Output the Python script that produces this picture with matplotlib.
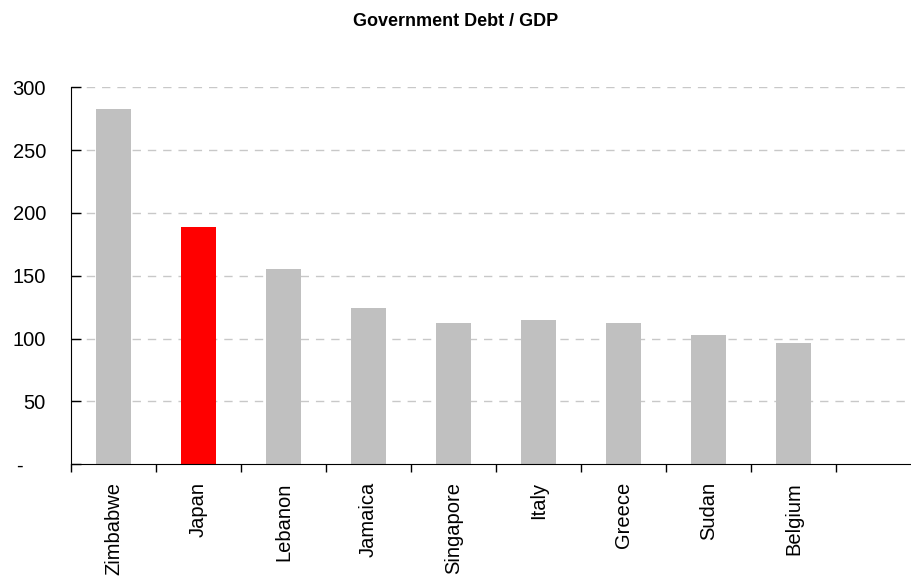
import matplotlib.pyplot as plt
from matplotlib.transforms import ScaledTranslation

plt.rcParams['font.family'] = ['Liberation Sans', 'DejaVu Sans']

# Data
countries = ['Zimbabwe', 'Japan', 'Lebanon', 'Jamaica', 'Singapore',
             'Italy', 'Greece', 'Sudan', 'Belgium', '']
debt = [282.5, 188.6, 155.2, 124.1, 112.2, 114.6, 112.2, 102.6, 96.3]
highlight = 'Japan'
yticks = [0, 50, 100, 150, 200, 250, 300]
ytick_labels = ['-', '50', '100', '150', '200', '250', '300']

fig = plt.figure(figsize=(9.12, 5.78), dpi=100)
# plot area runs a little past the right edge of the figure, as in the original
ax = fig.add_axes([71 / 912, 0.197, 850 / 912, 0.652])

colors = ['#ff0000' if c == highlight else '#c0c0c0' for c in countries[:len(debt)]]
ax.bar(range(len(debt)), debt, width=0.42, color=colors, zorder=2)

ax.set_xlim(-0.5, len(countries) - 0.5)
ax.set_ylim(0, 300)

# y axis
ax.set_yticks(yticks)
ax.set_yticklabels(ytick_labels, fontsize=14.5)
ax.tick_params(axis='y', direction='in', length=7, width=1, pad=18)
for lbl in ax.get_yticklabels():
    if lbl.get_text() == '-':
        lbl.set_transform(lbl.get_transform() + ScaledTranslation(-0.23, 0, fig.dpi_scale_trans))
ax.grid(axis='y', color='#c8c8c8', linestyle=(0, (6, 5)), linewidth=1, zorder=0)
ax.yaxis.get_gridlines()[0].set_visible(False)

# x axis: labels at centres, ticks at boundaries
ax.set_xticks(range(len(countries)))
ax.set_xticklabels(countries, rotation=90, fontsize=14.5, va='top')
ax.tick_params(axis='x', which='major', length=0, pad=13)
ax.set_xticks([i - 0.5 for i in range(len(countries) + 1)], minor=True)
ax.tick_params(axis='x', which='minor', direction='out', length=6, width=1)

for s in ['top', 'right']:
    ax.spines[s].set_visible(False)

fig.suptitle('Government Debt / GDP', fontsize=13, fontweight='bold', y=0.978)

fig.savefig('out.png', dpi=100)
